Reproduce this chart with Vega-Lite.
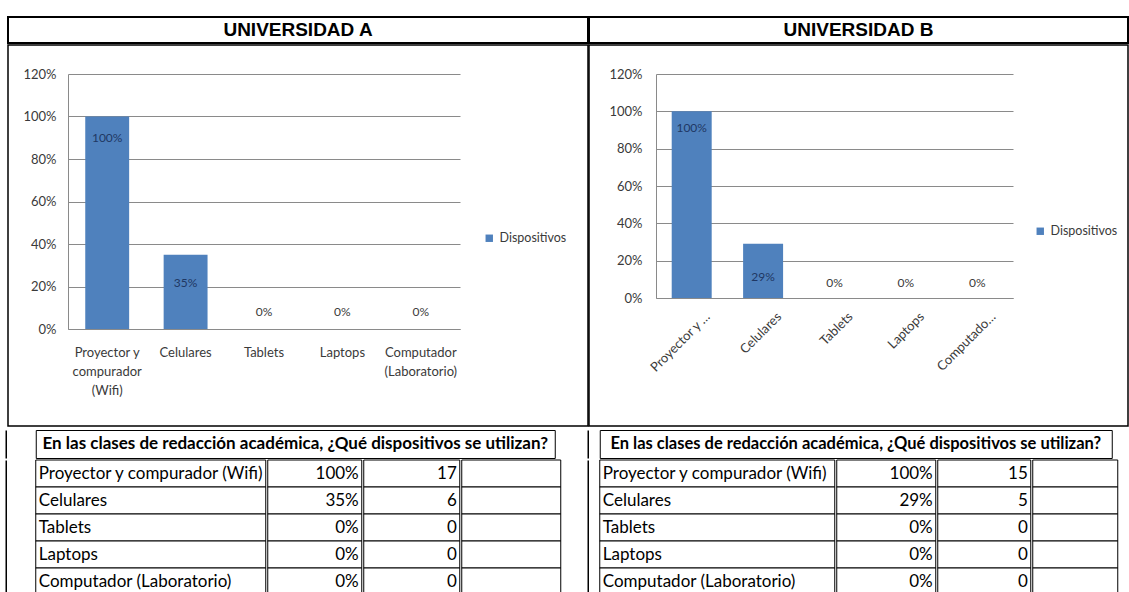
{
  "$schema": "https://vega.github.io/schema/vega-lite/v6.json",
  "background": "white",
  "padding": {"left": 5, "top": 16, "right": 0, "bottom": 0},
  "autosize": {"type": "pad"},
  "config": {
    "view": {"stroke": null},
    "font": "Lato",
    "axis": {"labelFont": "Lato", "labelFontSize": 13, "labelColor": "#3a3a3a", "domainColor": "#8a8a8a", "gridColor": "#8a8a8a", "ticks": false, "title": null},
    "legend": {"labelFont": "Lato", "labelFontSize": 12.5, "labelColor": "#3a3a3a"}
  },
  "datasets": {
    "A": [
      {"disp": "Proyector y compurador (Wifi)", "pct": 1.0, "n": 17},
      {"disp": "Celulares", "pct": 0.35, "n": 6},
      {"disp": "Tablets", "pct": 0, "n": 0},
      {"disp": "Laptops", "pct": 0, "n": 0},
      {"disp": "Computador (Laboratorio)", "pct": 0, "n": 0}
    ],
    "B": [
      {"disp": "Proyector y compurador (Wifi)", "pct": 1.0, "n": 15},
      {"disp": "Celulares", "pct": 0.29, "n": 5},
      {"disp": "Tablets", "pct": 0, "n": 0},
      {"disp": "Laptops", "pct": 0, "n": 0},
      {"disp": "Computador (Laboratorio)", "pct": 0, "n": 0}
    ]
  },
  "spacing": -2,
  "resolve": {"scale": {"color": "independent"}, "legend": {"color": "independent"}},
  "hconcat": [
    {
      "spacing": 2,
      "center": true,
      "resolve": {"scale": {"color": "independent"}, "legend": {"color": "independent"}},
      "vconcat": [
        {
          "spacing": 0,
          "resolve": {"scale": {"color": "independent"}, "legend": {"color": "independent"}},
          "vconcat": [
            {
              "data": {"values": [{"titulo": "UNIVERSIDAD A"}]},
              "width": 580, "height": 26,
              "view": {"stroke": "black", "strokeWidth": 2},
              "mark": {"type": "text", "font": "Liberation Sans", "fontWeight": "bold", "fontSize": 19, "color": "black"},
              "encoding": {"text": {"field": "titulo"}}
            },
            {
              "data": {"name": "A"},
              "width": 580, "height": 381,
              "view": {"stroke": "black", "strokeWidth": 1.5},
              "encoding": {
                "x": {"field": "disp", "type": "nominal", "sort": null,
                  "scale": {"range": [60, 452], "paddingInner": 0.44, "paddingOuter": 0.22},
                  "axis": {"offset": -97, "labelAngle": 0, "labelExpr": "split(datum.label, / (?!y )/)", "labelPadding": 17, "labelLineHeight": 19, "labelBaseline": "top", "labelLimit": 0}},
                "y": {"field": "pct", "type": "quantitative", "scale": {"domain": [0, 1.2], "nice": false, "range": [284, 29]},
                  "axis": {"offset": -60, "values": [0, 0.2, 0.4, 0.6, 0.8, 1, 1.2], "format": ".0%", "grid": true, "labelPadding": 12}}
              },
              "layer": [
                {"mark": {"type": "bar"},
                 "encoding": {"color": {"datum": "Dispositivos", "type": "nominal", "scale": {"range": ["#4f81bd"]},
                   "legend": {"orient": "none", "legendX": 475, "legendY": 187, "title": null, "symbolType": "square", "symbolSize": 55, "symbolStrokeWidth": 0}}}},
                {"transform": [{"filter": "datum.pct == 1"}],
                 "mark": {"type": "text", "dy": 21, "color": "#1f3864", "fontSize": 12},
                 "encoding": {"text": {"field": "pct", "format": ".0%"}}},
                {"transform": [{"filter": "datum.pct > 0 && datum.pct < 1"}],
                 "mark": {"type": "text", "dy": 28, "color": "#1f3864", "fontSize": 12},
                 "encoding": {"text": {"field": "pct", "format": ".0%"}}},
                {"transform": [{"filter": "datum.pct == 0"}],
                 "mark": {"type": "text", "dy": -17, "color": "#3a3a3a", "fontSize": 12},
                 "encoding": {"text": {"field": "pct", "format": ".0%"}}}
              ]
            }
          ]
        },
        {
          "spacing": 0,
          "vconcat": [
            {
              "data": {"values": [{"h": "En las clases de redacción académica, ¿Qué dispositivos se utilizan?"}]},
              "width": 519, "height": 28,
              "view": {"stroke": "black"},
              "mark": {"type": "text", "font": "Lato", "fontWeight": "bold", "fontSize": 17, "color": "black"},
              "encoding": {
                "y": {"field": "h", "type": "nominal", "scale": {"paddingInner": 0, "paddingOuter": 0},
                  "axis": {"offset": 30, "labels": false, "ticks": false, "grid": false, "domainColor": "black", "domainWidth": 1.5}},
                "text": {"field": "h"}
              }
            },
            {
              "spacing": 0,
              "hconcat": [
                {
                  "data": {"name": "A"}, "width": 230, "height": 135,
                  "encoding": {"y": {"field": "disp", "type": "nominal", "sort": null, "scale": {"paddingInner": 0, "paddingOuter": 0},
                    "axis": {"offset": 30, "labels": false, "ticks": false, "grid": false, "domainColor": "black", "domainWidth": 1.5}}},
                  "layer": [
                    {"mark": {"type": "rect", "fill": "white", "stroke": "black", "strokeWidth": 1}},
                    {"mark": {"type": "text", "align": "left", "dx": 3, "fontSize": 17, "color": "black"}, "encoding": {"x": {"value": 0}, "text": {"field": "disp"}}}
                  ]
                },
                {
                  "data": {"name": "A"}, "width": 94, "height": 135,
                  "encoding": {"y": {"field": "disp", "type": "nominal", "sort": null, "axis": null, "scale": {"paddingInner": 0, "paddingOuter": 0}}},
                  "layer": [
                    {"mark": {"type": "rect", "fill": "white", "stroke": "black", "strokeWidth": 1}},
                    {"mark": {"type": "text", "align": "right", "dx": -3, "fontSize": 17, "color": "black"}, "encoding": {"x": {"value": "width"}, "text": {"field": "pct", "format": ".0%"}}}
                  ]
                },
                {
                  "data": {"name": "A"}, "width": 96, "height": 135,
                  "encoding": {"y": {"field": "disp", "type": "nominal", "sort": null, "axis": null, "scale": {"paddingInner": 0, "paddingOuter": 0}}},
                  "layer": [
                    {"mark": {"type": "rect", "fill": "white", "stroke": "black", "strokeWidth": 1}},
                    {"mark": {"type": "text", "align": "right", "dx": -3, "fontSize": 17, "color": "black"}, "encoding": {"x": {"value": "width"}, "text": {"field": "n"}}}
                  ]
                },
                {
                  "data": {"name": "A"}, "width": 99, "height": 135,
                  "encoding": {"y": {"field": "disp", "type": "nominal", "sort": null, "axis": null, "scale": {"paddingInner": 0, "paddingOuter": 0}}},
                  "layer": [
                    {"mark": {"type": "rect", "fill": "white", "stroke": "black", "strokeWidth": 1}}
                  ]
                }
              ]
            }
          ]
        }
      ]
    },
    {
      "spacing": 2,
      "center": true,
      "resolve": {"scale": {"color": "independent"}, "legend": {"color": "independent"}},
      "vconcat": [
        {
          "spacing": 0,
          "resolve": {"scale": {"color": "independent"}, "legend": {"color": "independent"}},
          "vconcat": [
            {
              "data": {"values": [{"titulo": "UNIVERSIDAD B"}]},
              "width": 539, "height": 26,
              "view": {"stroke": "black", "strokeWidth": 2},
              "mark": {"type": "text", "font": "Liberation Sans", "fontWeight": "bold", "fontSize": 19, "color": "black"},
              "encoding": {"text": {"field": "titulo"}}
            },
            {
              "data": {"name": "B"},
              "width": 539, "height": 381,
              "view": {"stroke": "black", "strokeWidth": 1.5},
              "encoding": {
                "x": {"field": "disp", "type": "nominal", "sort": null,
                  "scale": {"range": [67, 424], "paddingInner": 0.44, "paddingOuter": 0.22},
                  "axis": {"offset": -128, "labelAngle": -45, "labelPadding": 12, "labelOffset": 12, "labelLimit": 81}},
                "y": {"field": "pct", "type": "quantitative", "scale": {"domain": [0, 1.2], "nice": false, "range": [253, 29]},
                  "axis": {"offset": -67, "values": [0, 0.2, 0.4, 0.6, 0.8, 1, 1.2], "format": ".0%", "grid": true, "labelPadding": 14}}
              },
              "layer": [
                {"mark": {"type": "bar"},
                 "encoding": {"color": {"datum": "Dispositivos", "type": "nominal", "scale": {"range": ["#4f81bd"]},
                   "legend": {"orient": "none", "legendX": 445, "legendY": 180, "title": null, "symbolType": "square", "symbolSize": 55, "symbolStrokeWidth": 0}}}},
                {"transform": [{"filter": "datum.pct == 1"}],
                 "mark": {"type": "text", "dy": 17, "color": "#1f3864", "fontSize": 12},
                 "encoding": {"text": {"field": "pct", "format": ".0%"}}},
                {"transform": [{"filter": "datum.pct > 0 && datum.pct < 1"}],
                 "mark": {"type": "text", "dy": 33, "color": "#1f3864", "fontSize": 12},
                 "encoding": {"text": {"field": "pct", "format": ".0%"}}},
                {"transform": [{"filter": "datum.pct == 0"}],
                 "mark": {"type": "text", "dy": -15, "color": "#3a3a3a", "fontSize": 12},
                 "encoding": {"text": {"field": "pct", "format": ".0%"}}}
              ]
            }
          ]
        },
        {
          "spacing": 0,
          "vconcat": [
            {
              "data": {"values": [{"h": "En las clases de redacción académica, ¿Qué dispositivos se utilizan?"}]},
              "width": 512, "height": 28,
              "view": {"stroke": "black"},
              "mark": {"type": "text", "font": "Lato", "fontWeight": "bold", "fontSize": 16.5, "color": "black"},
              "encoding": {
                "y": {"field": "h", "type": "nominal", "scale": {"paddingInner": 0, "paddingOuter": 0},
                  "axis": {"offset": 12, "labels": false, "ticks": false, "grid": false, "domainColor": "black", "domainWidth": 1.5}},
                "text": {"field": "h"}
              }
            },
            {
              "spacing": 0,
              "hconcat": [
                {
                  "data": {"name": "B"}, "width": 235, "height": 135,
                  "encoding": {"y": {"field": "disp", "type": "nominal", "sort": null, "scale": {"paddingInner": 0, "paddingOuter": 0},
                    "axis": {"offset": 12, "labels": false, "ticks": false, "grid": false, "domainColor": "black", "domainWidth": 1.5}}},
                  "layer": [
                    {"mark": {"type": "rect", "fill": "white", "stroke": "black", "strokeWidth": 1}},
                    {"mark": {"type": "text", "align": "left", "dx": 3, "fontSize": 17, "color": "black"}, "encoding": {"x": {"value": 0}, "text": {"field": "disp"}}}
                  ]
                },
                {
                  "data": {"name": "B"}, "width": 99, "height": 135,
                  "encoding": {"y": {"field": "disp", "type": "nominal", "sort": null, "axis": null, "scale": {"paddingInner": 0, "paddingOuter": 0}}},
                  "layer": [
                    {"mark": {"type": "rect", "fill": "white", "stroke": "black", "strokeWidth": 1}},
                    {"mark": {"type": "text", "align": "right", "dx": -3, "fontSize": 17, "color": "black"}, "encoding": {"x": {"value": "width"}, "text": {"field": "pct", "format": ".0%"}}}
                  ]
                },
                {
                  "data": {"name": "B"}, "width": 93, "height": 135,
                  "encoding": {"y": {"field": "disp", "type": "nominal", "sort": null, "axis": null, "scale": {"paddingInner": 0, "paddingOuter": 0}}},
                  "layer": [
                    {"mark": {"type": "rect", "fill": "white", "stroke": "black", "strokeWidth": 1}},
                    {"mark": {"type": "text", "align": "right", "dx": -3, "fontSize": 17, "color": "black"}, "encoding": {"x": {"value": "width"}, "text": {"field": "n"}}}
                  ]
                },
                {
                  "data": {"name": "B"}, "width": 85, "height": 135,
                  "encoding": {"y": {"field": "disp", "type": "nominal", "sort": null, "axis": null, "scale": {"paddingInner": 0, "paddingOuter": 0}}},
                  "layer": [
                    {"mark": {"type": "rect", "fill": "white", "stroke": "black", "strokeWidth": 1}}
                  ]
                }
              ]
            }
          ]
        }
      ]
    }
  ]
}
